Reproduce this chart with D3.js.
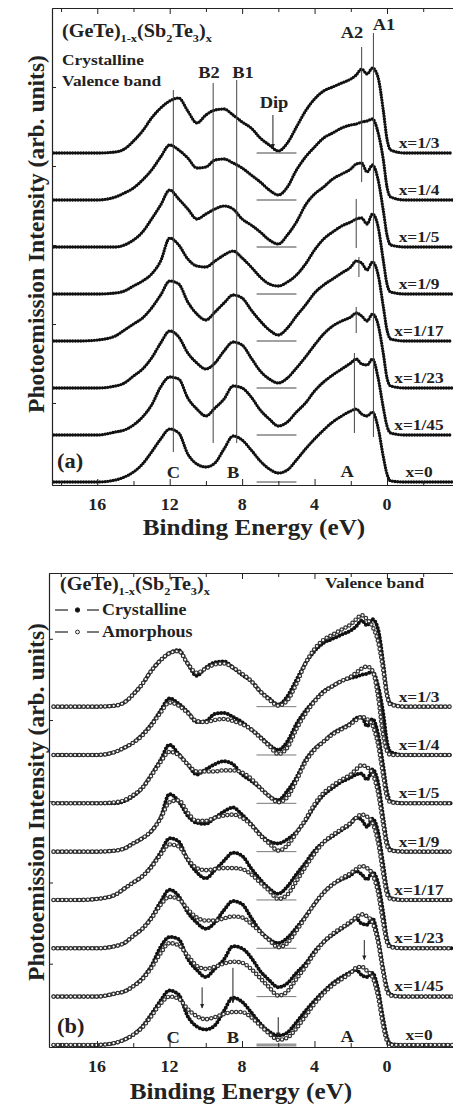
<!DOCTYPE html>
<html>
<head>
<meta charset="utf-8">
<script src="https://cdn.jsdelivr.net/npm/d3@7"></script>
<style>
  body { margin: 0; background: #fff; }
  svg text { font-family: "Liberation Serif", "Times New Roman", serif; font-weight: bold; fill: #222; }
</style>
</head>
<body>
<svg id="chart" width="453" height="1106"></svg>
<script>
// binding energy grid (eV) shared by all spectra
const energies = [18.4, 17, 16, 15, 14.5, 14, 13.5, 13, 12.5, 12, 11.5, 11, 10.5, 10, 9.5, 9, 8.5, 8, 7.5, 7,
  6.5, 6, 5.5, 5, 4.5, 4, 3.5, 3, 2.5, 2, 1.7, 1.4, 1.1, 0.8, 0.5, 0.2, 0, -0.2, -1, -3.6];

const compositions = ["x=1/3", "x=1/4", "x=1/5", "x=1/9", "x=1/17", "x=1/23", "x=1/45", "x=0"];
const offsets = [329, 282, 235, 188, 141, 94, 47, 0];

// crystalline spectra (arb. units)
const cryst13 = [0,0,0,1,4, 12,22,35,45,52, 55,42,30,38,43, 44,38,31,25,15, 8,2,10,26,42, 54,62,66,70,74, 78,84,79,85,76, 42,14,3,0,0];
const cryst14 = [0,0,0,3,7, 12,20,30,43,55, 50,42,32,33,40, 41,37,32,25,18, 10,5,13,30,43, 53,62,67,72,75, 76,78,79,81,68, 40,13,3,0,0];
const cryst15 = [0,0,0,0,2, 7,15,28,42,57, 48,38,28,33,38, 41,38,28,22,15, 7,3,12,25,42, 53,60,68,73,78, 83,84,75,82,68, 36,12,2,0,0];
const cryst19 = [0,0,0,1,3, 8,13,20,33,56, 49,35,28,27,33, 39,43,36,27,17, 10,8,12,19,30, 44,55,62,68,72, 75,76,70,80,68, 33,10,2,0,0];
const cryst117 = [0,0,1,5,11, 17,23,33,46,60, 57,39,27,21,29, 38,46,43,31,20, 11,6,13,25,36, 48,56,62,68,74, 80,78,71,79,67, 34,11,2,0,0];
const cryst123 = [0,0,0,2,5, 12,19,30,45,57, 51,35,25,19,25, 37,46,43,30,17, 9,5,10,20,31, 43,54,62,67,71, 75,72,67,74,64, 34,10,2,0,0];
const cryst145 = [0,0,0,3,5, 10,18,30,48,58, 56,37,26,19,27, 36,49,47,38,25, 16,9,13,23,32, 44,53,60,66,72, 76,71,70,76,58, 27,9,2,0,0];
const cryst0 = [0,0,0,2,5, 10,18,30,43,53, 49,28,18,15,19, 33,46,42,32,21, 13,9,12,22,33, 43,52,60,66,71, 73,68,66,70,55, 25,8,1,0,0];

// amorphous spectra (arb. units)
const amor13 = [0,0,0,1,4, 12,22,35,45,52, 54,42,33,37,41, 42,38,32,25,15, 7,1,6,22,42, 56,65,70,75,80, 85,89,85,78,64, 35,11,2,0,0];
const amor14 = [0,0,0,3,7, 12,19,29,41,51, 48,41,33,32,34, 35,33,30,25,17, 9,1,7,25,40, 52,61,67,72,76, 80,84,86,82,58, 18,4,0,0,0];
const amor15 = [0,0,0,1,3, 8,15,27,40,50, 47,38,31,31,31, 32,32,30,24,15, 7,1,6,22,40, 52,60,67,72,77, 81,84,82,76,58, 26,6,1,0,0];
const amor19 = [0,0,0,1,3, 8,13,20,32,48, 50,38,30,30,33, 35,36,33,26,16, 8,1,6,18,31, 46,57,64,70,75, 80,84,82,76,58, 26,6,1,0,0];
const amor117 = [0,0,1,5,11, 17,23,32,44,54, 52,40,31,29,30, 31,31,30,25,17, 9,1,5,18,32, 45,56,63,69,75, 80,83,81,75,57, 25,6,1,0,0];
const amor123 = [0,0,0,2,5, 12,19,29,42,50, 48,38,30,27,27, 29,31,30,24,16, 8,1,5,17,30, 43,54,62,68,73, 77,80,78,72,55, 24,6,1,0,0];
const amor145 = [0,0,0,3,5, 10,17,28,42,52, 50,40,30,27,29, 32,34,33,27,18, 9,1,5,17,29, 42,53,61,67,73, 77,80,78,72,54, 23,6,1,0,0];
const amor0 = [0,0,0,2,5, 10,17,28,40,47, 45,35,28,25,27, 30,32,32,27,19, 11,5,7,16,28, 40,50,58,64,70, 75,76,72,66,48, 18,4,0,0,0];

const crystalline = [cryst13, cryst14, cryst15, cryst19, cryst117, cryst123, cryst145, cryst0];
const amorphous = [amor13, amor14, amor15, amor19, amor117, amor123, amor145, amor0];

const xMajor = [16, 12, 8, 4, 0];
const xMinor = [18, 14, 10, 6, 2, -2];
const yTicks = [79, 158, 237, 316, 395];

// annotations (energy in eV, heights in arb. units)
const peakLines = [[11.8, 30, 392], [9.6, 39, 399], [8.3, 39, 402], [0.75, 45, 449]];
const a2Segments = [[1.4, 300, 435], [1.7, 234, 283], [1.55, 205, 225], [1.7, 149, 175], [1.8, 49, 129]];
const dipRange = [7.2, 5.0];
const dipArrow = [6.3, 367, 334];
const arrowsB = [[10.2, 56, 36], [8.5, 75, 41], [6.0, 27, 8], [1.25, 102, 83]];

const SX = 1.12;
const svg = d3.select("#chart");

svg.append("defs").append("marker")
  .attr("id", "head").attr("viewBox", "0 0 8 10").attr("refX", 7).attr("refY", 5)
  .attr("markerWidth", 5).attr("markerHeight", 6).attr("orient", "auto")
  .append("path").attr("d", "M0,1.5 L8,5 L0,8.5 Z").attr("fill", "#222");

function txt(g, x, y, s, size, anchor = "start") {
  return g.append("text")
    .attr("transform", `translate(${x},${y}) scale(${SX},1)`)
    .attr("font-size", size)
    .attr("text-anchor", anchor)
    .text(s);
}

function formula(g, x, y) {
  const t = g.append("text").attr("transform", `translate(${x},${y}) scale(${SX},1)`).attr("font-size", 18);
  const parts = [["(GeTe)", 0], ["1-x", 1], ["(Sb", 0], ["2", 1], ["Te", 0], ["3", 1], [")", 0], ["x", 1]];
  let shift = 0;
  parts.forEach(([s, sub]) => {
    const target = sub ? 5 : 0;
    t.append("tspan").attr("dy", target - shift).attr("font-size", sub ? 11 : 18).text(s);
    shift = target;
  });
}

function drawPanel(p) {
  const g = svg.append("g");
  const x = d3.scaleLinear().domain([p.eMax, -3.7]).range([p.left, 454]);
  const y = d3.scaleLinear().domain([p.yMin, p.yMax]).range([p.bottom, p.top]);

  const line = off => d3.line()
    .x((d, i) => x(energies[i]))
    .y(d => y(d + off))
    .curve(d3.curveMonotoneX);

  // dip reference bars
  offsets.forEach((off, i) => {
    g.append("line")
      .attr("x1", x(dipRange[0])).attr("x2", x(dipRange[1]))
      .attr("y1", y(off)).attr("y2", y(off))
      .attr("stroke", p.amorphous ? (i === 7 ? "#999" : "#777") : "#444")
      .attr("stroke-width", p.amorphous && i === 7 ? 3 : 1);
  });

  // spectra
  offsets.forEach((off, i) => {
    g.append("path").attr("d", line(off)(crystalline[i]))
      .attr("fill", "none").attr("stroke", "#111")
      .attr("stroke-width", p.amorphous ? 4 : 3.3)
      .attr("stroke-linecap", "round")
      .attr("stroke-dasharray", p.amorphous ? "0 3.4" : "0 2.7");
    if (p.amorphous) {
      g.append("path").attr("d", line(off)(amorphous[i]))
        .attr("fill", "none").attr("stroke", "#333").attr("stroke-width", 4.6)
        .attr("stroke-linecap", "round").attr("stroke-dasharray", "0 4.3");
      g.append("path").attr("d", line(off)(amorphous[i]))
        .attr("fill", "none").attr("stroke", "#fff").attr("stroke-width", 2.2)
        .attr("stroke-linecap", "round").attr("stroke-dasharray", "0 4.3");
    }
    txt(g, 419, y(off + 5), compositions[i], 15.5, "middle");
  });

  // axes
  const axes = [
    d3.axisBottom(x).tickValues(xMajor).tickSize(-6),
    d3.axisBottom(x).tickValues(xMinor).tickSize(-4),
    d3.axisTop(x).tickValues(xMajor).tickSize(-6),
    d3.axisTop(x).tickValues(xMinor).tickSize(-4)
  ];
  axes.forEach((ax, k) => {
    g.append("g").attr("transform", `translate(0,${k < 2 ? p.bottom : p.top})`)
      .call(ax.tickFormat("").tickSizeOuter(0))
      .attr("color", "#222");
  });
  g.append("g").attr("transform", `translate(${p.left},0)`)
    .call(d3.axisLeft(y).tickValues(yTicks).tickSize(-4).tickFormat("").tickSizeOuter(0))
    .attr("color", "#222");
  g.selectAll(".domain").attr("stroke-width", 1.2);

  xMajor.forEach(v => txt(g, x(v), p.bottom + 25, String(v), 16, "middle"));
  txt(g, p.titleX, p.bottom + p.titleDy, "Binding Energy (eV)", 22.5, "middle");

  g.append("text")
    .attr("transform", `translate(44,${p.yLabelY}) rotate(-90)`)
    .attr("font-size", 23.5).attr("text-anchor", "middle")
    .text("Photoemission Intensity (arb. units)");

  txt(g, 57, p.panelY, p.panel, 20);
  txt(g, x(11.8), p.bottom - p.abcDy, "C", 16.5, "middle");
  txt(g, x(8.5), p.bottom - p.abcDy, "B", 16.5, "middle");
  txt(g, x(2.2), p.bottom - p.abcDy - 1, "A", 16.5, "middle");

  return { g, x, y };
}

// panel (a): crystalline valence band
const pa = drawPanel({ top: 8, bottom: 485, left: 52, eMax: 18.5, yMin: -3, yMax: 474, amorphous: false,
  titleX: 254, titleDy: 50, yLabelY: 234, panel: "(a)", panelY: 468, abcDy: 7 });

peakLines.forEach(([e, lo, hi]) => {
  pa.g.append("line").attr("x1", pa.x(e)).attr("x2", pa.x(e)).attr("y1", pa.y(lo)).attr("y2", pa.y(hi))
    .attr("stroke", "#444").attr("stroke-width", 1);
});
a2Segments.forEach(([e, lo, hi]) => {
  pa.g.append("line").attr("x1", pa.x(e)).attr("x2", pa.x(e)).attr("y1", pa.y(lo)).attr("y2", pa.y(hi))
    .attr("stroke", "#444").attr("stroke-width", 1);
});
pa.g.append("line").attr("x1", pa.x(dipArrow[0])).attr("x2", pa.x(dipArrow[0]))
  .attr("y1", pa.y(dipArrow[1])).attr("y2", pa.y(dipArrow[2]))
  .attr("stroke", "#222").attr("stroke-width", 1).attr("marker-end", "url(#head)");

formula(pa.g, 62, 37);
txt(pa.g, 62, 65, "Crystalline", 15.5);
txt(pa.g, 62, 86, "Valence band", 15.5);
txt(pa.g, 209, 78, "B2", 16.5, "middle");
txt(pa.g, 243, 78, "B1", 16.5, "middle");
txt(pa.g, 274, 108, "Dip", 16.5, "middle");
txt(pa.g, 352, 38, "A2", 16.5, "middle");
txt(pa.g, 384, 30, "A1", 16.5, "middle");

// panel (b): crystalline vs amorphous
const pb = drawPanel({ top: 573, bottom: 1047, left: 49, eMax: 18.65, yMin: -2, yMax: 459, amorphous: true,
  titleX: 241, titleDy: 52, yLabelY: 802, panel: "(b)", panelY: 1033, abcDy: 4 });

arrowsB.forEach(([e, from, to]) => {
  pb.g.append("line").attr("x1", pb.x(e)).attr("x2", pb.x(e)).attr("y1", pb.y(from)).attr("y2", pb.y(to))
    .attr("stroke", "#222").attr("stroke-width", 1).attr("marker-end", "url(#head)");
});

formula(pb.g, 60, 590);
txt(pb.g, 325, 588, "Valence band", 15.5);
[["Crystalline", 610, true], ["Amorphous", 632, false]].forEach(([name, ly, filled]) => {
  pb.g.append("line").attr("x1", 55).attr("x2", 68).attr("y1", ly).attr("y2", ly).attr("stroke", "#222").attr("stroke-width", 1.2);
  pb.g.append("line").attr("x1", 87).attr("x2", 99).attr("y1", ly).attr("y2", ly).attr("stroke", "#222").attr("stroke-width", 1.2);
  pb.g.append("circle").attr("cx", 77.5).attr("cy", ly).attr("r", filled ? 2.2 : 1.9)
    .attr("fill", filled ? "#111" : "#fff").attr("stroke", "#222").attr("stroke-width", 1);
  txt(pb.g, 102, ly + 5, name, 16);
});
</script>
</body>
</html>
